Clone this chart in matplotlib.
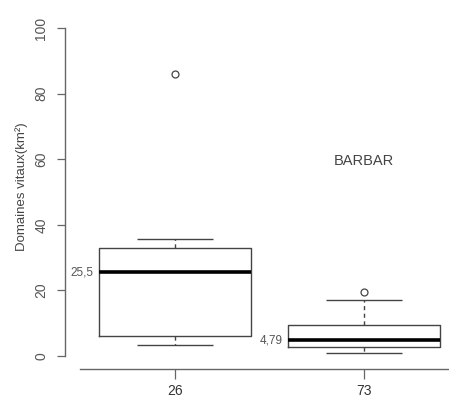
import matplotlib.pyplot as plt

plt.rcParams['font.family'] = ['Liberation Sans', 'DejaVu Sans']

# box statistics
groups = ['26', '73']
q1 = [6.2, 2.8]
med = [25.5, 4.79]
q3 = [32.8, 9.4]
whislo = [3.4, 0.9]
whishi = [35.6, 17.2]
fliers = [[85.9], [19.4]]
median_labels = ['25,5', '4,79']
yticks = [0, 20, 40, 60, 80, 100]

stats = []
for i in range(len(groups)):
    stats.append(dict(med=med[i], q1=q1[i], q3=q3[i], whislo=whislo[i],
                      whishi=whishi[i], fliers=fliers[i], label=groups[i]))

W, H = 449, 401
fig = plt.figure(figsize=(W / 100, H / 100), dpi=100)
ax = fig.add_axes([0, 0, 1, 1])

# pixel -> data mapping: x=1 at 175px, 189px per unit; y=0 at 356px, 3.28px per unit
px_x = 189.0
px_y = 3.28
x0 = 1 - 175 / px_x
x1 = 1 + (W - 175) / px_x
ax.set_xlim(x0, x1)
ax.set_ylim((356 - H) / px_y, 356 / px_y)

grey = '#444444'
ax.bxp(stats, positions=[1, 2], widths=0.8,
       boxprops=dict(color=grey, linewidth=1.0),
       medianprops=dict(color='black', linewidth=2.6),
       whiskerprops=dict(color=grey, linewidth=1.0, linestyle=(0, (3, 2.5))),
       capprops=dict(color=grey, linewidth=1.0, solid_capstyle='butt'),
       flierprops=dict(marker='o', markersize=5, markerfacecolor='none',
                       markeredgecolor=grey, markeredgewidth=0.9),
       capwidths=0.4)

for s in ['top', 'right']:
    ax.spines[s].set_visible(False)
ax.spines['left'].set_position(('data', x0 + 65 / px_x))
ax.spines['left'].set_bounds(0, 100)
ax.spines['bottom'].set_position(('data', (356 - 369) / px_y))
ax.spines['bottom'].set_bounds(x0 + 80 / px_x, x1)
for s in ['left', 'bottom']:
    ax.spines[s].set_color('#666666')
    ax.spines[s].set_linewidth(1.0)

ax.set_yticks(yticks)
ax.set_yticklabels([str(v) for v in yticks], rotation=90, va='center')
ax.tick_params(axis='y', direction='out', length=6, width=0.9, colors='#666666',
               labelcolor='#555555', labelsize=10, pad=6)
ax.set_xticks([1, 2])
ax.set_xticklabels(groups)
ax.tick_params(axis='x', direction='out', length=7, width=0.9, colors='#666666',
               labelcolor='#333333', labelsize=10, pad=4)

for i, lab in enumerate(median_labels):
    ax.text(i + 1 - 0.43, med[i], lab, ha='right', va='center',
            fontsize=8.5, color='#555555')

ax.text(2, 59.4, 'BARBAR', ha='center', va='center', fontsize=10.5, color='#444444')

fig.text(22 / W, 1 - 187 / H, 'Domaines vitaux(km²)', rotation=90,
         ha='center', va='center', fontsize=9.5, color='#444444')

fig.savefig('out.png', dpi=100)
